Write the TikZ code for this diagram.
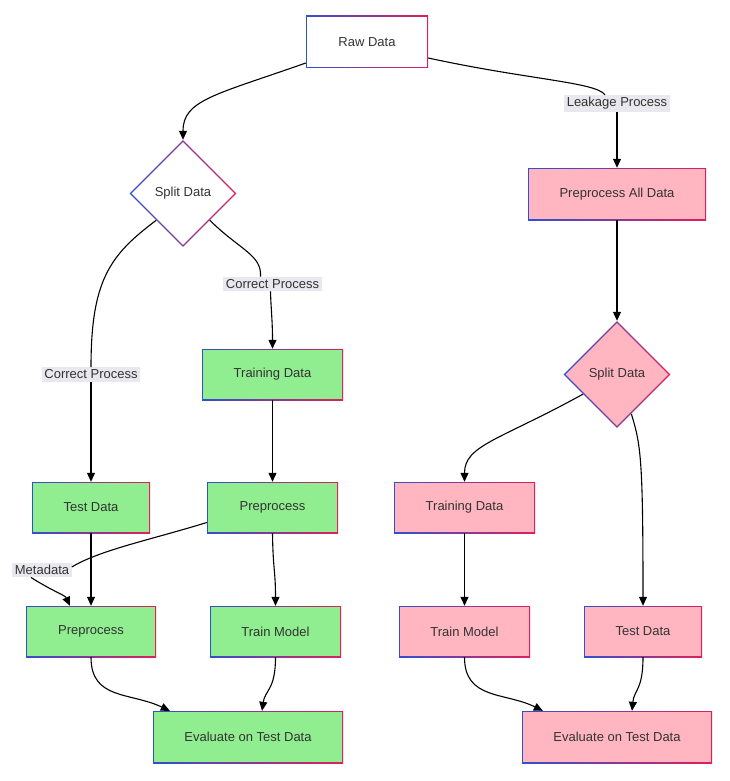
\documentclass[tikz,border=0pt]{standalone}
\usepackage{fontspec}
\setmainfont{Liberation Sans}
\usetikzlibrary{shapes.geometric,arrows.meta}
\definecolor{bblue}{HTML}{3050D0}
\definecolor{bred}{HTML}{E0205A}
\definecolor{gfill}{HTML}{90EE90}
\definecolor{pfill}{HTML}{FFB6C1}
\definecolor{lblbg}{HTML}{E8E8EE}
\definecolor{txt}{HTML}{333333}
\tikzset{
  fnt/.style={font=\fontsize{13}{15}\selectfont, text=txt},
  gbox/.style={rectangle, inner sep=0pt, fnt, left color=bblue, right color=bred,
    path picture={\fill[#1] ([shift={(1.4pt,1.4pt)}]path picture bounding box.south west) rectangle ([shift={(-1.4pt,-1.4pt)}]path picture bounding box.north east);}},
  gdia/.style={diamond, aspect=1, inner sep=0pt, minimum width=107pt, minimum height=107pt, fnt,
    left color=bblue, right color=bred,
    path picture={\fill[#1] ([yshift=-2pt]path picture bounding box.north) -- ([xshift=-2pt]path picture bounding box.east) -- ([yshift=2pt]path picture bounding box.south) -- ([xshift=2pt]path picture bounding box.west) -- cycle;}},
  lbl/.style={fill=lblbg, fnt, inner sep=2.5pt},
  conn/.style={line width=1.1pt, -{Triangle[length=9pt,width=8pt]}},
  plain/.style={line width=1.1pt}
}
\begin{document}
\begin{tikzpicture}[x=1pt,y=-1pt]
\useasboundingbox (0,0) rectangle (730,781);
% nodes
\node[gbox=white, minimum width=122pt, minimum height=52pt] (raw) at (367,42) {Raw Data};
\node[gdia=white] (splitl) at (183,193.5) {Split Data};
\node[gbox=pfill, minimum width=178pt, minimum height=52pt] (preall) at (617,194) {Preprocess All Data};
\node[gbox=gfill, minimum width=141pt, minimum height=51pt] (trainl) at (272.5,374.5) {Training Data};
\node[gdia=pfill] (splitr) at (617,374.5) {Split Data};
\node[gbox=gfill, minimum width=118pt, minimum height=51pt] (testl) at (91,507.5) {Test Data};
\node[gbox=gfill, minimum width=131pt, minimum height=51pt] (prem) at (272.5,507.5) {Preprocess};
\node[gbox=pfill, minimum width=141pt, minimum height=51pt] (trainr) at (464.5,507.5) {Training Data};
\node[gbox=gfill, minimum width=130pt, minimum height=51pt] (prel) at (91,631.5) {Preprocess};
\node[gbox=gfill, minimum width=131pt, minimum height=51pt] (tmm) at (275.5,631.5) {Train Model};
\node[gbox=pfill, minimum width=131pt, minimum height=51pt] (tmr) at (464.5,631.5) {Train Model};
\node[gbox=pfill, minimum width=118pt, minimum height=51pt] (testr) at (643,631.5) {Test Data};
\node[gbox=gfill, minimum width=190pt, minimum height=52pt] (evl) at (248,737) {Evaluate on Test Data};
\node[gbox=pfill, minimum width=190pt, minimum height=52pt] (evr) at (617,737) {Evaluate on Test Data};
% labels
\node[lbl] (leak) at (617,103.5) {Leakage Process};
\node[lbl] (cpl) at (91,374.5) {Correct Process};
\node[lbl] (cpm) at (272.5,284) {Correct Process};
\node[lbl] (meta) at (42,570) {Metadata};
% connectors
\draw[conn] ([yshift=-21pt]raw.west) .. controls (215,95) and (183,100) .. (splitl.north);
\draw[plain] ([yshift=-16pt]raw.east) .. controls (530,80) and (595,82) .. ([xshift=-12pt]leak.north);
\draw[conn] (leak.south) -- (preall.north);
\draw[plain] (splitl.225) .. controls (110,255) and (91,280) .. (cpl.north);
\draw[conn] (cpl.south) -- (testl.north);
\draw[plain] (splitl.315) .. controls (240,250) and (262,255) .. ([xshift=-12pt]cpm.north);
\draw[conn] ([xshift=-2pt]cpm.south) .. controls (271,310) and (272.5,320) .. (trainl.north);
\draw[conn] (trainl.south) -- (prem.north);
\draw[conn] (prem.south) .. controls (273,570) and (275.5,570) .. (tmm.north);
\draw[plain] ([yshift=-15pt]prem.west) .. controls (150,540) and (100,550) .. ([yshift=3pt]meta.east);
\draw[conn] ([xshift=-11pt]meta.south) .. controls (54,592) and (65,595) .. ([xshift=-21pt]prel.north);
\draw[conn] (testl.south) -- (prel.north);
\draw[conn] (prel.south) .. controls (91,700) and (130,692) .. ([xshift=17pt]evl.north west);
\draw[conn] (tmm.south) .. controls (275.5,690) and (265,690) .. ([xshift=14pt]evl.north);
\draw[conn] (preall.south) -- (splitr.north);
\draw[conn] (splitr.210) .. controls (500,440) and (464.5,445) .. (trainr.north);
\draw[conn] (splitr.290) .. controls (641,445) and (643,460) .. (testr.north);
\draw[conn] (trainr.south) -- (tmr.north);
\draw[conn] (tmr.south) .. controls (464.5,700) and (505,692) .. ([xshift=21pt]evr.north west);
\draw[conn] (testr.south) .. controls (643,690) and (634,690) .. ([xshift=15pt]evr.north);
\end{tikzpicture}
\end{document}
